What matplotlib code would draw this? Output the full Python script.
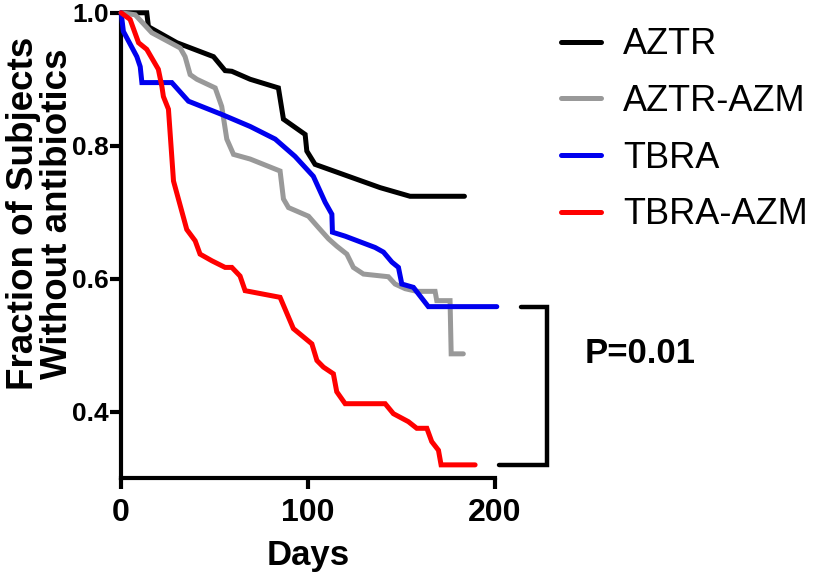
import matplotlib
matplotlib.use("Agg")
import matplotlib.pyplot as plt

plt.rcParams['font.family'] = ['Liberation Sans', 'DejaVu Sans']

# ---- data ----
aztr_days = [0, 13.7, 14.6, 29.8, 49.4, 55.6, 59.2, 69, 84.1, 86.8, 98.4, 99.3, 103.7, 138.5, 154.5, 183.6]
aztr_vals = [1.0, 1.0, 0.979, 0.955, 0.934, 0.913, 0.912, 0.900, 0.887, 0.840, 0.817, 0.792, 0.772, 0.737, 0.724, 0.724]

aztr_azm_days = [0, 7.5, 16.4, 31.6, 34.2, 36.9, 40.5, 50.3, 53.8, 56.5, 60.1, 69, 85, 86.8, 89.5, 100.2,
                 105.5, 110.9, 115.3, 120.7, 124.2, 129.6, 142.9, 146.5, 151.9, 158.1, 167.9, 168.8, 175.9,
                 176.5, 183.0]
aztr_azm_vals = [1.0, 0.997, 0.970, 0.947, 0.934, 0.907, 0.900, 0.887, 0.859, 0.810, 0.787, 0.780, 0.762,
                 0.720, 0.707, 0.694, 0.677, 0.660, 0.649, 0.637, 0.617, 0.607, 0.603, 0.592, 0.585, 0.581,
                 0.581, 0.567, 0.567, 0.487, 0.487]

tbra_days = [0, 1.2, 8.4, 10.2, 11.1, 27.1, 36.0, 53.9, 69, 82.4, 93.0, 102.8, 109.1, 112.7, 113.0, 119.8,
             135.8, 140.3, 144.8, 148.3, 150.1, 156.3, 164.3, 200.9]
tbra_vals = [1.0, 0.972, 0.934, 0.919, 0.895, 0.895, 0.867, 0.847, 0.829, 0.810, 0.784, 0.754, 0.715,
             0.697, 0.670, 0.664, 0.647, 0.640, 0.625, 0.617, 0.592, 0.587, 0.558, 0.558]

tbra_azm_days = [0, 4.8, 9.3, 13.7, 19.9, 21.8, 22.6, 25.3, 28.0, 35.1, 39.6, 42.2, 48.5, 55.6, 59.2, 63.6,
                 66.3, 85.0, 92.1, 102.0, 104.7, 108.2, 113.5, 115.3, 119.8, 141.2, 145.6, 153.6, 158.1,
                 163.5, 166.1, 169.7, 171.1, 189.3]
tbra_azm_vals = [1.0, 0.990, 0.955, 0.945, 0.915, 0.889, 0.874, 0.855, 0.747, 0.674, 0.657, 0.637, 0.627,
                 0.617, 0.617, 0.604, 0.582, 0.572, 0.525, 0.502, 0.477, 0.467, 0.457, 0.430, 0.412, 0.412,
                 0.397, 0.385, 0.375, 0.375, 0.355, 0.342, 0.320, 0.320]

series_names = ["AZTR", "AZTR-AZM", "TBRA", "TBRA-AZM"]
series_colors = ["#000000", "#999999", "#0000EE", "#FF0000"]

x_ticks = [0, 100, 200]
y_ticks = [0.4, 0.6, 0.8, 1.0]
y_ticklabels = ["0.4", "0.6", "0.8", "1.0"]

p_text = "P=0.01"
bracket_x = [214, 228, 228, 202]
bracket_y = [tbra_vals[-1], tbra_vals[-1], tbra_azm_vals[-1], tbra_azm_vals[-1]]

# ---- figure ----
fig = plt.figure(figsize=(8.13, 5.81), dpi=100)
ax = fig.add_axes([0.149, 0.177, 0.460, 0.801])

series = [(aztr_days, aztr_vals), (aztr_azm_days, aztr_azm_vals),
          (tbra_days, tbra_vals), (tbra_azm_days, tbra_azm_vals)]
for (d, v), name, c in zip(series, series_names, series_colors):
    ax.plot(d, v, color=c, lw=3.6, label=name, clip_on=False,
            solid_joinstyle='miter', solid_capstyle='round', zorder=3)

ax.plot(bracket_x, bracket_y, color='black', lw=3.2, clip_on=False,
        solid_capstyle='round', solid_joinstyle='miter')

ax.set_xlim(0, 200)
ax.set_ylim(0.3, 1.0)
ax.set_xticks(x_ticks)
ax.set_yticks(y_ticks)
ax.set_yticklabels(y_ticklabels)

for s in ['top', 'right']:
    ax.spines[s].set_visible(False)
for s in ['left', 'bottom']:
    ax.spines[s].set_linewidth(3.0)
    ax.spines[s].set_color('black')

ax.tick_params(axis='both', direction='out', length=8, width=3.0, pad=4)
ax.tick_params(axis='x', labelsize=23, pad=6)
ax.tick_params(axis='y', labelsize=19, pad=1)
for lab in ax.get_xticklabels() + ax.get_yticklabels():
    lab.set_fontweight('bold')

ax.set_xlabel("Days", fontsize=25, fontweight='bold', labelpad=8)
fig.text(0.050, 0.632, "Fraction of Subjects\nWithout antibiotics", rotation=90,
         fontsize=26.5, fontweight='bold', ha='center', va='center', linespacing=0.95)

ax.text(1.24, 0.267, p_text, transform=ax.transAxes, fontsize=25, fontweight='bold',
        va='center', ha='left')

leg = ax.legend(loc='upper left', bbox_to_anchor=(0.672, 0.978), bbox_transform=fig.transFigure,
                frameon=False, fontsize=26, handlelength=1.1, handletextpad=0.62,
                labelspacing=0.6, borderaxespad=0)
for line in leg.get_lines():
    line.set_linewidth(3.6)

fig.savefig("out.png", dpi=100)
